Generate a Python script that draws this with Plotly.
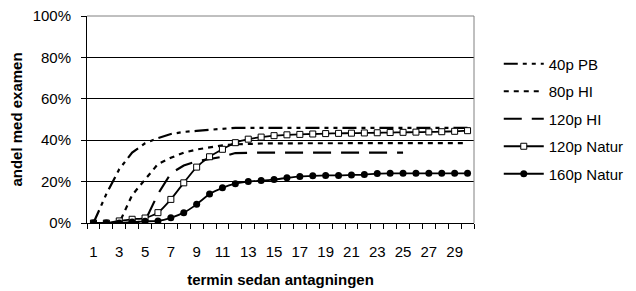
import plotly.graph_objects as go

terms = list(range(1, 31))
tick_labels = [str(t) for t in range(1, 30, 2)]
y_ticks = [0, 20, 40, 60, 80, 100]
y_labels = ["0%", "20%", "40%", "60%", "80%", "100%"]

pb40 = [0, 14, 26, 34, 38.5, 41, 43, 44, 44.5, 45, 45.5, 46, 46, 46, 46, 46, 46, 46,
        46, 46, 46, 46, 46, 46, 46, 46, 46, 46, 46, 46]
hi80 = [0, 0, 0, 13.5, 21, 28.5, 31.5, 34, 35.5, 36.5, 37.5, 38, 38.3, 38.4, 38.5, 38.5,
        38.5, 38.5, 38.6, 38.6, 38.6, 38.6, 38.6, 38.6, 38.6, 38.6, 38.6, 38.6, 38.6, 38.6]
hi120 = [0, 0, 0, 0, 1, 14, 24, 27.8, 29.8, 31, 32, 33.8, 34, 34, 34, 34, 34, 34, 34,
         34, 34, 34, 34, 34, 34, None, None, None, None, None]
natur120 = [0, 0, 1, 1.8, 2.4, 5, 11.4, 19.4, 27, 32, 35.6, 38.8, 40.5, 41.5, 42.2, 42.6,
            42.8, 43, 43.2, 43.3, 43.4, 43.5, 43.6, 43.7, 43.8, 43.9, 44, 44.1, 44.3, 44.6]
natur160 = [0, 0, 0, 0.5, 0.8, 1, 2.5, 5, 9, 14, 17, 19, 20, 20.5, 21, 21.8, 22.5, 22.8,
            23, 23, 23.2, 23.4, 23.9, 24, 24, 24, 24, 24, 24, 24]

names = ["40p PB", "80p HI", "120p HI", "120p Natur", "160p Natur"]
boundaries = [i + 0.5 for i in range(0, 31)]

fig = go.Figure()
fig.add_trace(go.Scatter(x=terms, y=pb40, name=names[0], mode="lines", legendgroup="a",
                         line=dict(color="black", width=2.2, dash="14px,5px,4px,5px,4px,5px")))
fig.add_trace(go.Scatter(x=terms, y=hi80, name=names[1], mode="lines", legendgroup="b",
                         line=dict(color="black", width=2.2, dash="5px,5px")))
fig.add_trace(go.Scatter(x=terms, y=hi120, name=names[2], mode="lines", legendgroup="c",
                         line=dict(color="black", width=2.2, dash="18px,10px")))
fig.add_trace(go.Scatter(x=terms, y=natur120, name=names[3], mode="lines+markers", legendgroup="d",
                         line=dict(color="black", width=1.8, shape="spline", smoothing=0.6),
                         marker=dict(symbol="square", size=6, color="white",
                                     line=dict(color="black", width=1))))
fig.add_trace(go.Scatter(x=terms, y=natur160, name=names[4], mode="lines+markers", legendgroup="e",
                         line=dict(color="black", width=1.8, shape="spline", smoothing=0.6),
                         marker=dict(symbol="circle", size=7, color="black")))
# helper trace so the label axis is drawn
fig.add_trace(go.Scatter(x=[0.5], y=[None], xaxis="x2", showlegend=False, hoverinfo="skip"))

font = "Liberation Sans, Arial, sans-serif"

fig.update_layout(
    width=636, height=291,
    margin=dict(l=79, r=170, t=8, b=58, autoexpand=False),
    paper_bgcolor="white", plot_bgcolor="white",
    font=dict(family=font, size=15, color="black"),
    showlegend=True,
    legend=dict(x=1.064, y=0.86, xanchor="left", yanchor="top",
                font=dict(size=15, family=font), tracegroupgap=5,
                bgcolor="rgba(0,0,0,0)", itemwidth=40),
    xaxis=dict(range=[0.5, 30.5], tickvals=boundaries, ticks="outside", ticklen=5,
               tickcolor="black", showticklabels=False,
               showgrid=False, zeroline=False, automargin=False,
               showline=True, linecolor="black", linewidth=1),
    xaxis2=dict(range=[0.5, 30.5], overlaying="x", anchor="free", position=0, side="bottom",
                tickvals=list(range(1, 30, 2)), ticktext=tick_labels, ticks="",
                showgrid=False, zeroline=False, showline=False, automargin=False,
                tickfont=dict(size=15),
                title=dict(text="<b>termin sedan antagningen</b>", font=dict(size=15),
                           standoff=15)),
    yaxis=dict(range=[0, 100], domain=[0.08, 1], tickvals=y_ticks, ticktext=y_labels,
               automargin=False, ticks="outside", ticklen=5, tickcolor="black",
               showgrid=True, gridcolor="black", gridwidth=1, zeroline=False,
               showline=True, linecolor="black", linewidth=1,
               tickfont=dict(size=15), ticklabelstandoff=7, ticklabeloverflow="allow",
               title=dict(text="<b>andel med examen</b>", font=dict(size=15), standoff=8)),
)

# gray top and right frame of plot area
fig.add_shape(type="line", xref="x domain", yref="y domain", x0=0, x1=1, y0=1, y1=1,
              line=dict(color="#808080", width=1))
fig.add_shape(type="line", xref="x domain", yref="y domain", x0=1, x1=1, y0=0, y1=1,
              line=dict(color="#808080", width=1))

fig.write_html("out.html")
